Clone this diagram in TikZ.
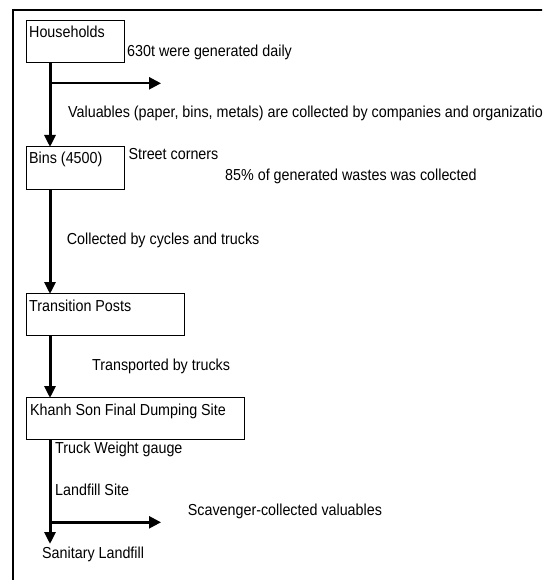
\documentclass[tikz,border=0pt]{standalone}
\usepackage{fontspec}
\setmainfont[FakeStretch=0.9]{Liberation Sans}
\usetikzlibrary{arrows.meta}
\begin{document}
\begin{tikzpicture}[x=1pt,y=-1pt,
  box/.style={draw,line width=1.3pt,rectangle,inner sep=0pt,anchor=north west},
  lbl/.style={anchor=base west,inner sep=0pt,font=\fontsize{15.9pt}{17pt}\selectfont},
  flow/.style={line width=3pt,-{Triangle[length=12pt,width=11pt]},shorten >=-1pt},
  branch/.style={line width=2.4pt,-{Triangle[length=12pt,width=12pt]}}]
\useasboundingbox (0,0) rectangle (542,580);
\clip (0,0) rectangle (542,580);
% frame
\draw[line width=2pt] (13,590) -- (13,10) -- (560,10);
% boxes
\node[box,minimum width=98pt,minimum height=42pt] (hh) at (26,20) {};
\node[box,minimum width=98pt,minimum height=42.5pt] (bins) at (26,146) {};
\node[box,minimum width=158pt,minimum height=42pt] (tp) at (26,293) {};
\node[box,minimum width=218pt,minimum height=42pt] (ks) at (26,397) {};
% box labels
\node[lbl] (thh) at (29,38) {Households};
\node[lbl] (tbins) at (29,163.5) {Bins (4500)};
\node[lbl] (ttp) at (29,311) {Transition Posts};
\node[lbl] (tks) at (30,415.7) {Khanh Son Final Dumping Site};
% other texts
\node[lbl] (t630) at (127,57) {630t were generated daily};
\node[lbl] (tval) at (68,118) {Valuables (paper, bins, metals) are collected by companies and organizations};
\node[lbl] (tstreet) at (128.3,160) {Street corners};
\node[lbl] (t85) at (225,180) {85\% of generated wastes was collected};
\node[lbl] (tcoll) at (66.7,244) {Collected by cycles and trucks};
\node[lbl] (ttrans) at (92,370) {Transported by trucks};
\node[lbl] (ttruck) at (55,453) {Truck Weight gauge};
\node[lbl] (tland) at (55,495.7) {Landfill Site};
\node[lbl] (tscav) at (187.7,515.7) {Scavenger-collected valuables};
\node[lbl] (tsan) at (42,558) {Sanitary Landfill};
% connectors
\coordinate (spine) at (50,0);
\coordinate (b1) at (50,83.3);
\coordinate (b1e) at (161,83.3);
\coordinate (b2) at (50,522.3);
\coordinate (b2e) at (161,522.3);
\coordinate (send) at (50,543);
\draw[flow] (hh.south -| spine) -- (bins.north -| spine);
\draw[flow] (bins.south -| spine) -- (tp.north -| spine);
\draw[flow] (tp.south -| spine) -- (ks.north -| spine);
\draw[flow] (ks.south -| spine) -- (send);
\draw[branch] (b1) -- (b1e);
\draw[branch] (b2) -- (b2e);
\end{tikzpicture}
\end{document}
